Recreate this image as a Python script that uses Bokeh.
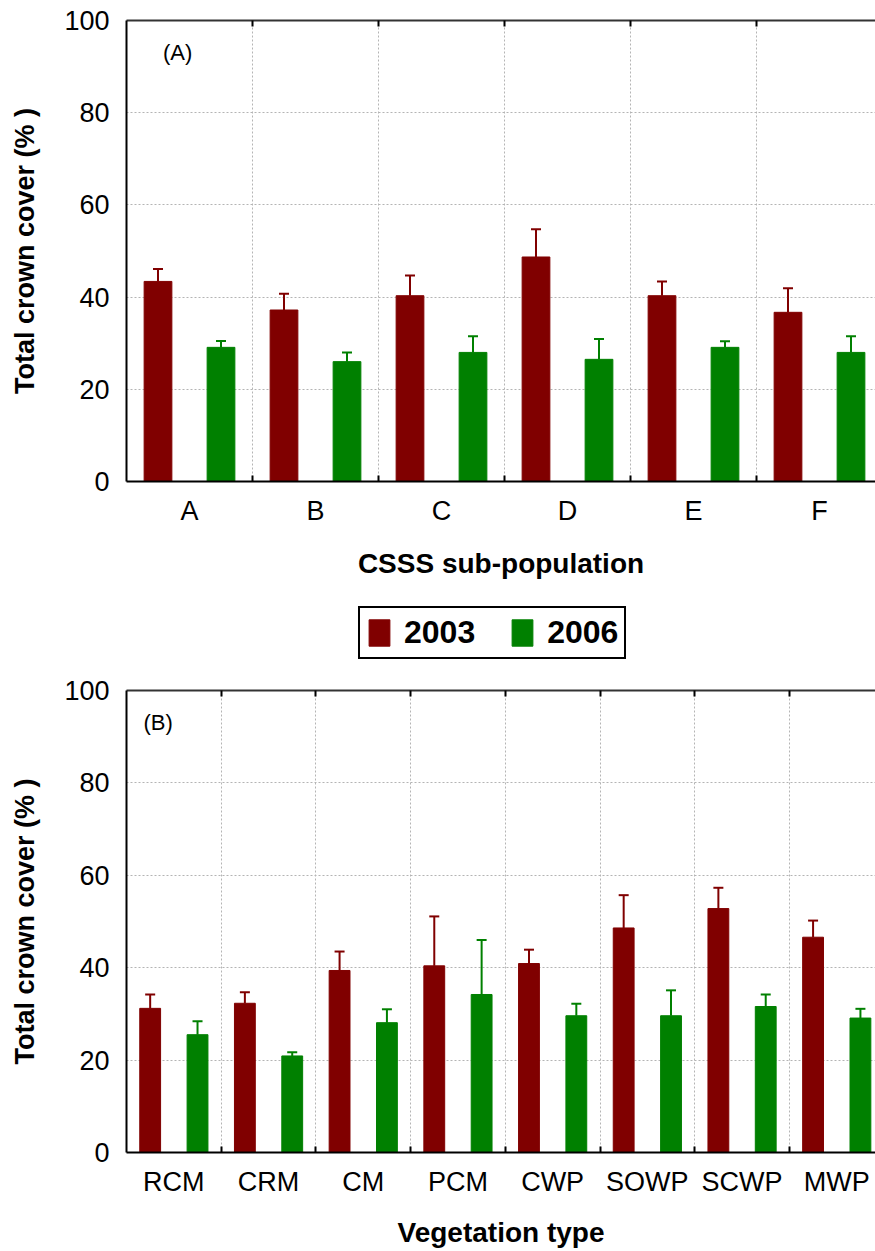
from bokeh.plotting import figure
from bokeh.models import (ColumnDataSource, Range1d, FixedTicker, LinearAxis, Legend,
                          LegendItem, Whisker, TeeHead, Label)
from bokeh.layouts import column
from bokeh.embed import file_html
from bokeh.resources import INLINE

# ---- data ----
sub_populations = ["A", "B", "C", "D", "E", "F"]
sub_2003 = [43.4, 37.2, 40.3, 48.7, 40.3, 36.7]
sub_2003_err = [2.7, 3.5, 4.4, 6.0, 3.1, 5.2]
sub_2006 = [29.1, 26.0, 28.0, 26.5, 29.1, 28.0]
sub_2006_err = [1.4, 2.0, 3.5, 4.4, 1.3, 3.5]

veg_types = ["RCM", "CRM", "CM", "PCM", "CWP", "SOWP", "SCWP", "MWP"]
veg_2003 = [31.2, 32.3, 39.4, 40.4, 40.9, 48.6, 52.8, 46.6]
veg_2003_err = [3.0, 2.4, 4.1, 10.7, 3.0, 7.1, 4.5, 3.6]
veg_2006 = [25.5, 20.9, 28.1, 34.2, 29.6, 29.6, 31.6, 29.1]
veg_2006_err = [2.9, 0.8, 2.9, 11.8, 2.6, 5.5, 2.6, 2.0]

y_ticks = [0, 20, 40, 60, 80, 100]
series_names = ["2003", "2006"]

RED = "#800000"
GREEN = "#008000"
FONT = "Liberation Sans"
GRID = "#b4b4b4"

FIG_W = 875
LEFT = 126


def make_panel(cats, v03, e03, v06, e06, xlabel, tag, tag_x, fig_h, cat_px,
               tick_standoff, title_standoff, min_top, min_bottom):
    n = len(cats)
    frame_w = FIG_W - LEFT
    x_end = -0.5 + frame_w / cat_px
    p = figure(width=FIG_W, height=fig_h,
               x_range=Range1d(-0.5, x_end), y_range=Range1d(0, 100),
               output_backend="svg", toolbar_location=None, title=None,
               min_border_left=LEFT, min_border_right=0,
               min_border_top=min_top, min_border_bottom=min_bottom,
               outline_line_color=None, background_fill_color="white",
               border_fill_color="white")
    centers = list(range(n))
    bounds = [i + 0.5 for i in range(n)]

    sources = []
    for vals, errs, color, off in ((v03, e03, RED, -0.25), (v06, e06, GREEN, 0.25)):
        src = ColumnDataSource(dict(
            x=[c + off for c in centers], top=vals,
            upper=[v + e for v, e in zip(vals, errs)]))
        sources.append(src)
        p.vbar(x="x", top="top", bottom=0, width=0.22, source=src,
               fill_color=color, line_color=color, line_width=1)
        p.add_layout(Whisker(source=src, base="x", lower="top", upper="upper",
                             line_color=color, line_width=2,
                             upper_head=TeeHead(size=10, line_color=color, line_width=2),
                             lower_head=None, level="overlay"))

    # grids
    p.xgrid.ticker = FixedTicker(ticks=bounds)
    p.ygrid.ticker = FixedTicker(ticks=[t for t in y_ticks if 0 < t < 100])
    for g in (p.xgrid[0], p.ygrid[0]):
        g.grid_line_color = GRID
        g.grid_line_dash = "2 2"
        g.grid_line_width = 1

    # bottom axis
    xa = p.xaxis[0]
    xa.ticker = FixedTicker(ticks=centers, minor_ticks=bounds)
    xa.major_label_overrides = {i: c for i, c in enumerate(cats)}
    xa.major_tick_in = 0
    xa.major_tick_out = 0
    xa.minor_tick_in = 6
    xa.minor_tick_out = 0
    xa.minor_tick_line_color = "black"
    xa.minor_tick_line_width = 2
    xa.axis_line_color = "black"
    xa.axis_line_width = 2
    xa.major_label_standoff = tick_standoff
    xa.major_label_text_font = FONT
    xa.major_label_text_font_size = "27px"
    xa.major_label_text_color = "black"
    xa.axis_label = xlabel
    xa.axis_label_text_font = FONT
    xa.axis_label_text_font_size = "28px"
    xa.axis_label_text_font_style = "bold"
    xa.axis_label_text_color = "black"
    xa.axis_label_standoff = title_standoff

    # left axis
    ya = p.yaxis[0]
    ya.ticker = FixedTicker(ticks=y_ticks)
    ya.major_tick_in = 0
    ya.major_tick_out = 0
    ya.minor_tick_line_color = None
    ya.axis_line_color = "black"
    ya.axis_line_width = 2
    ya.major_label_standoff = 17
    ya.major_label_text_font = FONT
    ya.major_label_text_font_size = "27px"
    ya.major_label_text_color = "black"
    ya.axis_label = "Total crown cover (% )"
    ya.axis_label_text_font = FONT
    ya.axis_label_text_font_size = "27px"
    ya.axis_label_text_font_style = "bold"
    ya.axis_label_text_color = "black"
    ya.axis_label_standoff = 21

    # top frame line with inward ticks
    top = LinearAxis(ticker=FixedTicker(ticks=[], minor_ticks=bounds),
                     major_label_standoff=0, major_tick_in=0, major_tick_out=0,
                     minor_tick_in=6, minor_tick_out=0, minor_tick_line_width=2,
                     minor_tick_line_color="black",
                     axis_line_color="#333333", axis_line_width=2,
                     major_label_text_font_size="0px")
    p.add_layout(top, "above")

    p.add_layout(Label(x=tag_x, y=93, text=tag,
                       text_font=FONT, text_font_size="22px",
                       text_baseline="middle", text_color="black"))
    return p, sources


# top panel: frame from y=20 to y=481, figure ends at y=582
p1, src1 = make_panel(sub_populations, sub_2003, sub_2003_err, sub_2006, sub_2006_err,
                      "CSSS sub-population", "(A)", -0.21, 582, 126.0, 14, 19, 20, 101)

# legend strip between the panels (y=582 to y=674); frame is aligned with the panels (x=126)
LEG_H = 92
pl = figure(width=FIG_W, height=LEG_H, x_range=Range1d(0, 1), y_range=Range1d(200, 300),
            x_axis_type=None, y_axis_type=None, output_backend="svg",
            toolbar_location=None, title=None,
            min_border_left=LEFT, min_border_right=0, min_border_top=0, min_border_bottom=0,
            outline_line_color=None, background_fill_color="white",
            border_fill_color="white")
pl.grid.visible = False
swatches = []
for color, src in zip((RED, GREEN), src1):
    swatches.append(pl.vbar(x="x", top="top", bottom=0, width=0.22, source=src,
                            fill_color=color, line_color=color, visible=False))
legend = Legend(items=[LegendItem(label=name, renderers=[r])
                       for name, r in zip(series_names, swatches)],
                orientation="horizontal", location=(232, 15),
                label_text_font=FONT, label_text_font_size="32px",
                label_text_font_style="bold", label_text_color="black",
                glyph_width=26, glyph_height=33, label_standoff=12, spacing=34,
                padding=6, margin=0, border_line_color="black", border_line_width=2,
                border_line_alpha=1.0,
                background_fill_color="white", background_fill_alpha=1.0)
pl.add_layout(legend, "center")

# bottom panel: frame from y=690 to y=1152, figure from y=674 to y=1251
p2, _ = make_panel(veg_types, veg_2003, veg_2003_err, veg_2006, veg_2006_err,
                   "Vegetation type", "(B)", -0.32, 577, 94.7, 14, 17, 16, 99)

layout = column(p1, pl, p2, spacing=0)

open("out.html", "w").write(file_html(layout, INLINE))
